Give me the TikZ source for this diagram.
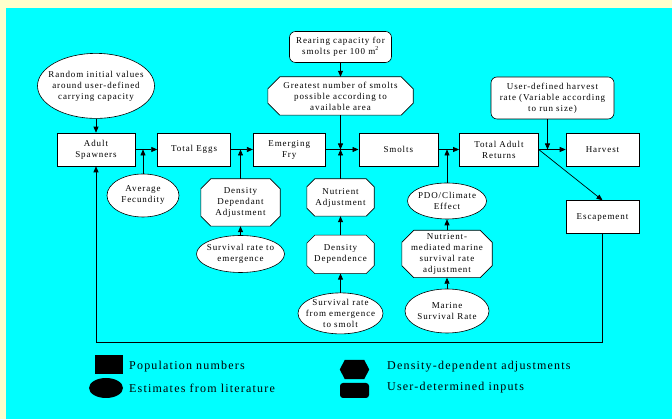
\documentclass[tikz,border=0pt]{standalone}
\usepackage{fontspec}
\setmainfont{Liberation Serif}[LetterSpace=10]
\usepackage{tikz}
\usetikzlibrary{shapes.geometric, arrows.meta, positioning, backgrounds}

\definecolor{panelcyan}{HTML}{00FFFF}
\definecolor{pageyellow}{HTML}{FFFFCC}

\begin{document}
\begin{tikzpicture}[
    x=1pt, y=1pt,
    every node/.style={font=\fontsize{9}{11}\selectfont},
    box/.style={rectangle, draw, line width=0.6pt, fill=white, align=center, inner sep=1pt, minimum width=73pt, minimum height=33pt},
    oval/.style={ellipse, draw, line width=0.6pt, fill=white, align=center, inner xsep=-14pt, inner ysep=-2pt},
    octo/.style={rectangle, align=center, inner sep=0pt},
    userbox/.style={rectangle, draw, line width=0.6pt, rounded corners=6pt, fill=white, align=center, inner sep=1pt},
    arrow/.style={line width=0.7pt, -{Triangle[length=6pt,width=5pt]}},
    keytext/.style={font=\fontsize{12}{14}\selectfont, inner sep=0pt, anchor=west}
]

% main chain
\node[box, minimum width=78pt] (spawners) at (96,269.5) {Adult\\Spawners};
\node[box, right=22pt of spawners] (eggs) {Total Eggs};
\node[box, minimum width=72pt, right=22pt of eggs] (fry) {Emerging\\Fry};
\node[box, minimum width=79pt, right=33pt of fry] (smolts) {Smolts};
\node[box, minimum width=79pt, right=21pt of smolts] (returns) {Total Adult\\Returns};
\node[box, right=27pt of returns] (harvest) {Harvest};
\node[box, below=34pt of harvest] (escape) {Escapement};

% inputs above
\node[oval, minimum width=117pt, minimum height=65pt, above=14pt of spawners] (random) {Random initial values\\around user-defined\\carrying capacity};
\node[octo, minimum width=145pt, minimum height=38pt] (greatest) at (340.5,323) {Greatest number of smolts\\possible according to\\available area};
\node[userbox, minimum width=102pt, minimum height=31pt, above=14pt of greatest] (rearing) {Rearing capacity for\\smolts per 100 m\textsuperscript{2}};
\node[userbox, minimum width=123pt, minimum height=42pt] (hrate) at (552.5,321) {User-defined harvest\\rate (Variable according\\to run size)};

% adjustments below
\node[oval, minimum width=72pt, minimum height=43pt] (fecundity) at (143,223.5) {Average\\Fecundity};
\node[octo, minimum width=79pt, minimum height=47pt] (ddadj) at (240.5,216.5) {Density\\Dependant\\Adjustment};
\node[oval, minimum width=88pt, minimum height=37pt, below=9pt of ddadj] (survegg) {Survival rate to\\emergence};
\node[octo, minimum width=67pt, minimum height=37pt] (nutrient) at (340.5,221.5) {Nutrient\\Adjustment};
\node[octo, minimum width=67pt, minimum height=38pt, below=19pt of nutrient] (densdep) {Density\\Dependence};
\node[oval, minimum width=85pt, minimum height=41pt, below=19pt of densdep] (survfry) {Survival rate\\from emergence\\to smolt};
\node[oval, minimum width=79pt, minimum height=36pt] (pdo) at (447,218) {PDO/Climate\\Effect};
\node[octo, minimum width=90pt, minimum height=47pt, below=11pt of pdo] (nutrmarine) {Nutrient-\\mediated marine\\survival rate\\adjustment};
\node[oval, minimum width=84pt, minimum height=44pt, below=11pt of nutrmarine] (marine) {Marine\\Survival Rate};

\coordinate (loop) at (96,77);

\draw[arrow] (random) -- (spawners);
\draw[arrow] (spawners) -- (eggs);
\draw[arrow] (fecundity) -- (fecundity |- spawners.east);
\draw[arrow] (eggs) -- (fry);
\draw[arrow] (ddadj) -- (ddadj |- eggs.east);
\draw[arrow] (survegg) -- (ddadj);
\draw[arrow] (fry) -- (smolts);
\draw[arrow] (rearing) -- (greatest);
\draw[arrow] (greatest) -- (greatest |- fry.east);
\draw[arrow] (nutrient) -- (nutrient |- fry.east);
\draw[arrow] (densdep) -- (nutrient);
\draw[arrow] (survfry) -- (densdep);
\draw[arrow] (smolts) -- (returns);
\draw[arrow] (pdo) -- (pdo |- smolts.east);
\draw[arrow] (nutrmarine) -- (pdo);
\draw[arrow] (marine) -- (nutrmarine);
\draw[arrow] (returns) -- (harvest);
\draw[arrow] ([xshift=-5pt]hrate.south) -- ([xshift=-5pt]hrate.south |- returns.east);
\draw[arrow] (returns.east) -- (escape.north);
\draw[arrow] (escape.south) |- (loop) -- (spawners.south);

% key
\node[rectangle, fill=black, inner sep=0pt, minimum width=28pt, minimum height=19pt] (keybox) at (109,54.5) {};
\node[ellipse, fill=black, inner sep=0pt, minimum width=34pt, minimum height=20pt] (keyoval) at (106,31) {};
\node[rectangle, inner sep=0pt, minimum width=29pt, minimum height=19pt] (keyocto) at (354.5,49.5) {};
\node[rectangle, rounded corners=3pt, fill=black, inner sep=0pt, minimum width=29pt, minimum height=15pt] (keyuser) at (354.5,28.5) {};
\fill (keyocto.west) -- ([xshift=5pt]keyocto.north west) -- ([xshift=-5pt]keyocto.north east)
  -- (keyocto.east) -- ([xshift=-5pt]keyocto.south east) -- ([xshift=5pt]keyocto.south west) -- cycle;
\node[keytext] (keyboxtext) at (129,52) {Population numbers};
\node[keytext] (keyovaltext) at (129,31) {Estimates from literature};
\node[keytext] (keyoctotext) at (387,52) {Density-dependent adjustments};
\node[keytext] (keyusertext) at (387,31) {User-determined inputs};

% page, panel and octagon outlines
\begin{scope}[on background layer]
\fill[pageyellow] (0,0) rectangle (672,419);
\fill[panelcyan] (6,0) rectangle (672,411);
\foreach \n/\c in {greatest/12, ddadj/10, nutrient/8, densdep/8, nutrmarine/12}
  \draw[line width=0.6pt, fill=white]
    ([xshift=\c pt]\n.north west) -- ([xshift=-\c pt]\n.north east)
    -- ([yshift=-\c pt]\n.north east) -- ([yshift=\c pt]\n.south east)
    -- ([xshift=-\c pt]\n.south east) -- ([xshift=\c pt]\n.south west)
    -- ([yshift=\c pt]\n.south west) -- ([yshift=-\c pt]\n.north west) -- cycle;
\end{scope}

\end{tikzpicture}
\end{document}
